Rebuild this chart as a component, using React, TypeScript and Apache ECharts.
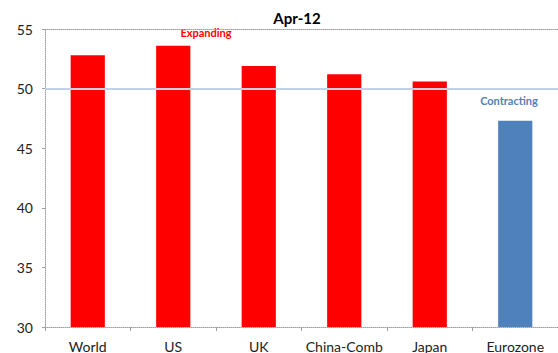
import React, { useEffect, useRef } from "react";
import * as echarts from "echarts";

const categories = ["World", "US", "UK", "China-Comb", "Japan", "Eurozone"];
const pmiValues = [52.8, 53.6, 51.9, 51.2, 50.6, 47.3];
const yTicks = [30, 35, 40, 45, 50, 55];
const threshold = 50;
const title = "Apr-12";

const RED = "#ff0000";
const BLUE = "#4f81bd";
const FONT = "Lato, 'Open Sans', sans-serif";

export default function App() {
  const ref = useRef<HTMLDivElement>(null);

  useEffect(() => {
    if (!ref.current) return;
    const chart = echarts.init(ref.current, undefined, { renderer: "svg" });
    const dotted = { color: "#a0a0a0", width: 1, type: [1, 1] as number[] };

    chart.setOption({
      animation: false,
      backgroundColor: "#ffffff",
      title: {
        text: title,
        left: 292,
        top: 5,
        textAlign: "center",
        textStyle: { fontFamily: FONT, fontSize: 15, fontWeight: "bold", color: "#000" },
      },
      grid: { left: 45, top: 29, width: 516, height: 299 },
      xAxis: [
        {
          type: "category",
          data: categories,
          axisLine: { lineStyle: dotted },
          axisTick: { show: true, interval: 0, length: 4, lineStyle: { color: "#a0a0a0" } },
          axisLabel: { interval: 0, fontFamily: FONT, fontSize: 14, color: "#222", margin: 12 },
        },
        {
          type: "category",
          position: "top",
          data: categories,
          axisLine: { lineStyle: dotted },
          axisTick: { show: false },
          axisLabel: { show: false },
        },
      ],
      yAxis: {
        type: "value",
        min: yTicks[0],
        max: yTicks[yTicks.length - 1],
        interval: 5,
        axisLine: { show: true, lineStyle: dotted },
        axisTick: { show: true, length: 3, lineStyle: { color: "#a0a0a0" } },
        splitLine: { show: false },
        axisLabel: { fontFamily: FONT, fontSize: 14, color: "#222", margin: 12 },
      },
      series: [
        {
          type: "bar",
          data: pmiValues.map((v) => ({
            value: v,
            itemStyle: { color: v >= threshold ? RED : BLUE },
          })),
          barWidth: "40%",
          markLine: {
            silent: true,
            symbol: "none",
            label: { show: false },
            lineStyle: { color: "#bfd2e8", width: 2, type: "solid" },
            data: [{ yAxis: threshold }],
          },
        },
      ],
      graphic: [
        {
          type: "text",
          x: 206,
          y: 32,
          style: {
            text: "Expanding",
            fill: RED,
            font: `bold 11px ${FONT}`,
            textAlign: "center",
            textVerticalAlign: "middle",
          },
        },
        {
          type: "text",
          x: 509,
          y: 100,
          style: {
            text: "Contracting",
            fill: BLUE,
            font: `bold 11px ${FONT}`,
            textAlign: "center",
            textVerticalAlign: "middle",
          },
        },
      ],
    });

    return () => chart.dispose();
  }, []);

  return (
    <div
      ref={ref}
      style={{ position: "fixed", left: 0, top: 0, width: 558, height: 353, background: "#fff" }}
    />
  );
}
